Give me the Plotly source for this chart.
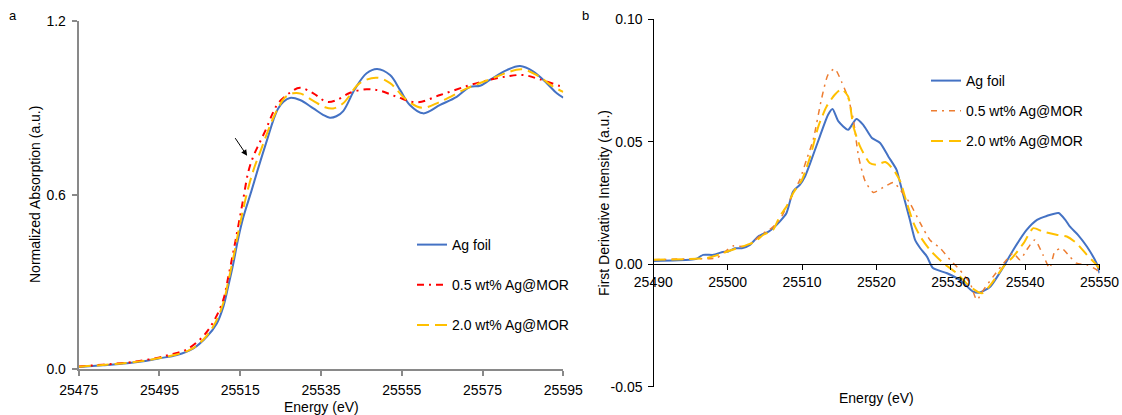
import plotly.graph_objects as go

# ---------------- Data: panel a (XANES) ----------------
energy_a_foil = [25475, 25481, 25487, 25491, 25495, 25499.3, 25503.4, 25506.7, 25509.2, 25510.8,
                 25512, 25513.3, 25514.5, 25515.8, 25517.8, 25519.4, 25521.9, 25523.2, 25524.4, 25525.7,
                 25527.3, 25529.8, 25533.1, 25535.5, 25537.2, 25538.8, 25540.5, 25543.4, 25546.3, 25548.9,
                 25552.1, 25554.6, 25557, 25560.3, 25564.5, 25568.6, 25571.9, 25574.4, 25576.8, 25581,
                 25584.3, 25587.6, 25590.9, 25593.4, 25595]
absorb_foil = [0.008, 0.014, 0.021, 0.028, 0.038, 0.049, 0.072, 0.112, 0.158, 0.215,
               0.284, 0.365, 0.450, 0.525, 0.615, 0.690, 0.801, 0.858, 0.898, 0.921,
               0.934, 0.927, 0.898, 0.876, 0.866, 0.871, 0.889, 0.965, 1.019, 1.034,
               1.013, 0.961, 0.910, 0.881, 0.910, 0.938, 0.972, 0.976, 0.996, 1.030,
               1.044, 1.025, 0.985, 0.950, 0.935]

energy_a_05 = [25475, 25481, 25487, 25491, 25495, 25498, 25501.7, 25505.9, 25508.7, 25510.8,
               25512, 25513.3, 25514.5, 25515.8, 25517, 25518.3, 25519.8, 25521.5, 25523, 25524.5,
               25527.3, 25529.8, 25533.1, 25536.4, 25538.9, 25542.2, 25546.3, 25549.6, 25553.8, 25558.7,
               25564.5, 25571.1, 25576, 25581, 25585.1, 25589.2, 25594.2, 25595]
absorb_05 = [0.010, 0.016, 0.023, 0.031, 0.041, 0.052, 0.068, 0.115, 0.172, 0.239,
             0.315, 0.405, 0.492, 0.590, 0.680, 0.735, 0.780, 0.830, 0.880, 0.918,
             0.952, 0.969, 0.950, 0.921, 0.927, 0.952, 0.964, 0.959, 0.938, 0.919,
             0.944, 0.975, 0.994, 1.008, 1.013, 0.998, 0.975, 0.972]

energy_a_20 = [25475, 25481, 25487, 25491, 25495, 25499, 25503, 25506.5, 25509, 25510.8,
               25512, 25513.3, 25514.5, 25515.8, 25517, 25518.5, 25520, 25521.7, 25523.2, 25524.6,
               25526, 25528.1, 25530, 25533, 25536, 25538, 25540.5, 25544.6, 25548.8, 25552.1,
               25556.2, 25560, 25564.5, 25571.1, 25576.8, 25581, 25584.7, 25588.4, 25592.5, 25595]
absorb_20 = [0.009, 0.015, 0.022, 0.029, 0.039, 0.050, 0.070, 0.112, 0.165, 0.228,
             0.300, 0.385, 0.470, 0.555, 0.625, 0.695, 0.750, 0.815, 0.866, 0.905,
             0.935, 0.950, 0.949, 0.925, 0.902, 0.898, 0.916, 0.985, 1.004, 0.985,
             0.927, 0.900, 0.921, 0.967, 0.998, 1.021, 1.033, 1.013, 0.973, 0.955]

# ---------------- Data: panel b (first derivative) ----------------
energy_b_foil = [25490, 25494.9, 25495.8, 25496.7, 25498.1, 25499.2, 25500.1, 25501, 25501.9, 25503,
                 25504.1, 25505.5, 25506.1, 25507, 25507.9, 25508.8, 25509.7, 25510.4, 25511.1, 25512.4,
                 25513.5, 25514.1, 25514.9, 25516.2, 25517.3, 25518.2, 25519.4, 25520.5, 25521.6, 25522.7,
                 25523.2, 25524.5, 25525.2, 25525.9, 25526.8, 25527.6, 25529.5, 25531.2, 25533, 25533.9,
                 25535.3, 25537.1, 25538.4, 25540.2, 25541.6, 25542.9, 25544.5, 25545.4, 25546, 25547.1,
                 25548.3, 25549.6, 25550]
deriv_foil = [0.0013, 0.0018, 0.0022, 0.0038, 0.0038, 0.0049, 0.0052, 0.0065, 0.0065, 0.0079,
              0.0113, 0.0133, 0.0147, 0.0174, 0.0208, 0.0297, 0.0324, 0.0358, 0.0413, 0.0522,
              0.0610, 0.0634, 0.0583, 0.0549, 0.0593, 0.0570, 0.0515, 0.0495, 0.0440, 0.0386,
              0.0330, 0.0181, 0.0099, 0.0065, 0.0031, -0.0016, -0.0037, -0.0064, -0.0112, -0.0116,
              -0.0092, -0.0010, 0.0058, 0.0140, 0.0181, 0.0197, 0.0209, 0.0181, 0.0154, 0.0120,
              0.0072, 0.0004, -0.0037]

energy_b_05 = [25490, 25494.9, 25498.5, 25499.4, 25500.8, 25502.1, 25503.2, 25504.8, 25505.9, 25507,
               25508.6, 25509.7, 25510.6, 25511.5, 25512.6, 25513.5, 25514.4, 25515.3, 25516.2, 25516.9,
               25517.6, 25518.5, 25519.6, 25520.9, 25522.3, 25523.2, 25524.5, 25525.9, 25527.2, 25528.6,
               25529.9, 25531.2, 25532.6, 25533.5, 25534.4, 25535.7, 25537.5, 25538.4, 25539.3, 25540.2,
               25541.3, 25542.4, 25543.3, 25544, 25544.9, 25546, 25546.9, 25548.3, 25549.6, 25550]
deriv_05 = [0.0018, 0.0022, 0.0025, 0.0045, 0.0075, 0.0072, 0.0086, 0.0127, 0.0147, 0.0181,
            0.0276, 0.0345, 0.0426, 0.0508, 0.0672, 0.0774, 0.0798, 0.0746, 0.0679, 0.0590,
            0.0440, 0.0338, 0.0293, 0.0313, 0.0334, 0.0304, 0.0249, 0.0168, 0.0099, 0.0065,
            0.0018, -0.0023, -0.0078, -0.0146, -0.0105, -0.0051, 0.0018, 0.0045, 0.0018, 0.0058,
            0.0099, 0.0038, -0.0016, 0.0052, 0.0065, 0.0031, 0.0004, -0.0003, -0.0023, -0.0040]

energy_b_20 = [25490, 25497.2, 25499.4, 25501.2, 25502.6, 25503.7, 25504.8, 25506.1, 25507, 25507.9,
               25508.8, 25510, 25511.1, 25512.2, 25513.3, 25514.4, 25515.3, 25516.2, 25516.9, 25517.8,
               25519.1, 25520, 25521.2, 25522.3, 25523.2, 25524.1, 25525, 25525.9, 25527.2, 25529,
               25530.8, 25532.6, 25534.2, 25535.5, 25537.1, 25538.4, 25539.8, 25541.1, 25542.4, 25544.2,
               25545.6, 25546.9, 25548.3, 25549.4, 25550]
deriv_20 = [0.0018, 0.0025, 0.0045, 0.0065, 0.0079, 0.0092, 0.0120, 0.0140, 0.0195, 0.0235,
            0.0290, 0.0345, 0.0440, 0.0563, 0.0644, 0.0692, 0.0715, 0.0685, 0.0563, 0.0481,
            0.0413, 0.0406, 0.0417, 0.0386, 0.0338, 0.0249, 0.0168, 0.0113, 0.0058, 0.0004,
            -0.0037, -0.0092, -0.0119, -0.0078, -0.0010, 0.0031, 0.0086, 0.0147, 0.0133, 0.0120,
            0.0113, 0.0086, 0.0038, 0.0004, -0.0020]

series_names = ["Ag foil", "0.5 wt% Ag@MOR", "2.0 wt% Ag@MOR"]

xticks_a = [25475, 25495, 25515, 25535, 25555, 25575, 25595]
xticklabels_a = ["25475", "25495", "25515", "25535", "25555", "25575", "25595"]
yticks_a = [0.0, 0.6, 1.2]
yticklabels_a = ["0.0", "0.6", "1.2"]
xticks_b = [25490, 25500, 25510, 25520, 25530, 25540, 25550]
xticklabels_b = ["25490", "25500", "25510", "25520", "25530", "25540", "25550"]
yticks_b = [-0.05, 0.0, 0.05, 0.10]
yticklabels_b = ["-0.05", "0.00", "0.05", "0.10"]

# ---------------- Layout geometry ----------------
W, H = 1122, 415
FONT = "Liberation Sans, Arial, sans-serif"
BLUE, RED, ORANGE, GOLD = "#4472C4", "#FF0000", "#ED7D31", "#FFC000"

ax_dom = [78.7 / W, 563.3 / W]
ay_dom = [1 - 369.3 / H, 1 - 20.7 / H]
bx_dom = [653.3 / W, 1099.5 / W]
by_dom = [1 - 386.6 / H, 1 - 19.3 / H]
b_zero_pos = by_dom[0] + (0 - (-0.05)) / 0.15 * (by_dom[1] - by_dom[0])

fig = go.Figure()

sm_a, sm_b = 1.0, 0.6
fig.add_trace(go.Scatter(x=energy_a_foil, y=absorb_foil, name=series_names[0], mode="lines",
                         line=dict(color=BLUE, width=2, shape="spline", smoothing=sm_a),
                         xaxis="x", yaxis="y", legend="legend", legendgroup="a1"))
fig.add_trace(go.Scatter(x=energy_a_05, y=absorb_05, name=series_names[1], mode="lines",
                         line=dict(color=RED, width=2, dash="7px,5px,2px,5px", shape="spline", smoothing=sm_a),
                         xaxis="x", yaxis="y", legend="legend", legendgroup="a2"))
fig.add_trace(go.Scatter(x=energy_a_20, y=absorb_20, name=series_names[2], mode="lines",
                         line=dict(color=GOLD, width=2, dash="12px,6px", shape="spline", smoothing=sm_a),
                         xaxis="x", yaxis="y", legend="legend", legendgroup="a3"))

fig.add_trace(go.Scatter(x=energy_b_foil, y=deriv_foil, name=series_names[0], mode="lines",
                         line=dict(color=BLUE, width=2, shape="spline", smoothing=sm_b),
                         xaxis="x2", yaxis="y2", legend="legend2", legendgroup="b1"))
fig.add_trace(go.Scatter(x=energy_b_05, y=deriv_05, name=series_names[1], mode="lines",
                         line=dict(color=ORANGE, width=1.5, dash="6px,5px,2px,5px", shape="spline", smoothing=sm_b),
                         xaxis="x2", yaxis="y2", legend="legend2", legendgroup="b2"))
fig.add_trace(go.Scatter(x=energy_b_20, y=deriv_20, name=series_names[2], mode="lines",
                         line=dict(color=GOLD, width=2, dash="12px,6px", shape="spline", smoothing=sm_b),
                         xaxis="x2", yaxis="y2", legend="legend2", legendgroup="b3"))

tickfont = dict(family=FONT, size=14, color="#000")
GRAY = "#898989"

fig.update_layout(
    width=W, height=H, autosize=False,
    margin=dict(l=0, r=0, t=0, b=0, pad=0, autoexpand=False),
    paper_bgcolor="white", plot_bgcolor="white",
    font=dict(family=FONT, size=14, color="#000"),
    xaxis=dict(domain=ax_dom, anchor="y", range=[25475, 25595], tickvals=xticks_a, ticktext=xticklabels_a,
               showgrid=False, zeroline=False, showline=True, linecolor=GRAY, linewidth=1.5,
               ticks="outside", ticklen=5, tickcolor=GRAY, tickwidth=1.5, tickfont=tickfont,
               ticklabelstandoff=2, automargin=False),
    yaxis=dict(domain=ay_dom, anchor="x", range=[0, 1.2], tickvals=yticks_a, ticktext=yticklabels_a,
               showgrid=False, zeroline=False, showline=True, linecolor=GRAY, linewidth=2,
               ticks="outside", ticklen=5, tickcolor=GRAY, tickwidth=1.5, tickfont=tickfont,
               ticklabelstandoff=3, automargin=False),
    xaxis2=dict(domain=bx_dom, anchor="free", position=b_zero_pos, range=[25490, 25550],
                tickvals=xticks_b, ticktext=xticklabels_b,
                showgrid=False, zeroline=False, showline=True, linecolor="#000", linewidth=1,
                ticks="outside", ticklen=5, tickcolor="#000", tickwidth=1, tickfont=tickfont,
                automargin=False),
    yaxis2=dict(domain=by_dom, anchor="free", position=bx_dom[0], range=[-0.05, 0.10], tickvals=yticks_b,
                ticktext=yticklabels_b,
                showgrid=False, zeroline=False, showline=True, linecolor="#000", linewidth=1,
                ticks="outside", ticklen=5, tickcolor="#000", tickwidth=1, tickfont=tickfont,
                ticklabelstandoff=3, automargin=False),
    legend=dict(x=(417 - 5) / W, xanchor="left", y=1 - 229 / H, yanchor="top",
                bgcolor="rgba(0,0,0,0)", font=dict(family=FONT, size=14, color="#000"),
                tracegroupgap=19, traceorder="grouped"),
    legend2=dict(x=(931 - 5) / W, xanchor="left", y=1 - 65 / H, yanchor="top",
                 bgcolor="rgba(0,0,0,0)", font=dict(family=FONT, size=14, color="#000"),
                 tracegroupgap=9, traceorder="grouped"),
)

def txt(text, x, y, size=14, angle=0):
    return dict(text=text, x=x / W, y=1 - y / H, xref="paper", yref="paper", showarrow=False,
                xanchor="center", yanchor="middle", textangle=angle,
                font=dict(family=FONT, size=size, color="#000"))

annots = [
    txt("a", 13, 16, 13),
    txt("b", 585, 16, 13),
    txt("Normalized Absorption (a.u.)", 35, 195, 14, -90),
    txt("Energy (eV)", 321, 407),
    txt("First Derivative Intensity (a.u.)", 604, 203, 14, -90),
    txt("Energy (eV)", 876, 398),
    dict(text="", x=25516.7, y=0.735, ax=25513.5, ay=0.801, xref="x", yref="y", axref="x", ayref="y",
         showarrow=True, arrowhead=2, arrowsize=1.2, arrowwidth=1, arrowcolor="#000"),
]
fig.update_layout(annotations=annots)

fig.write_html("out.html")
